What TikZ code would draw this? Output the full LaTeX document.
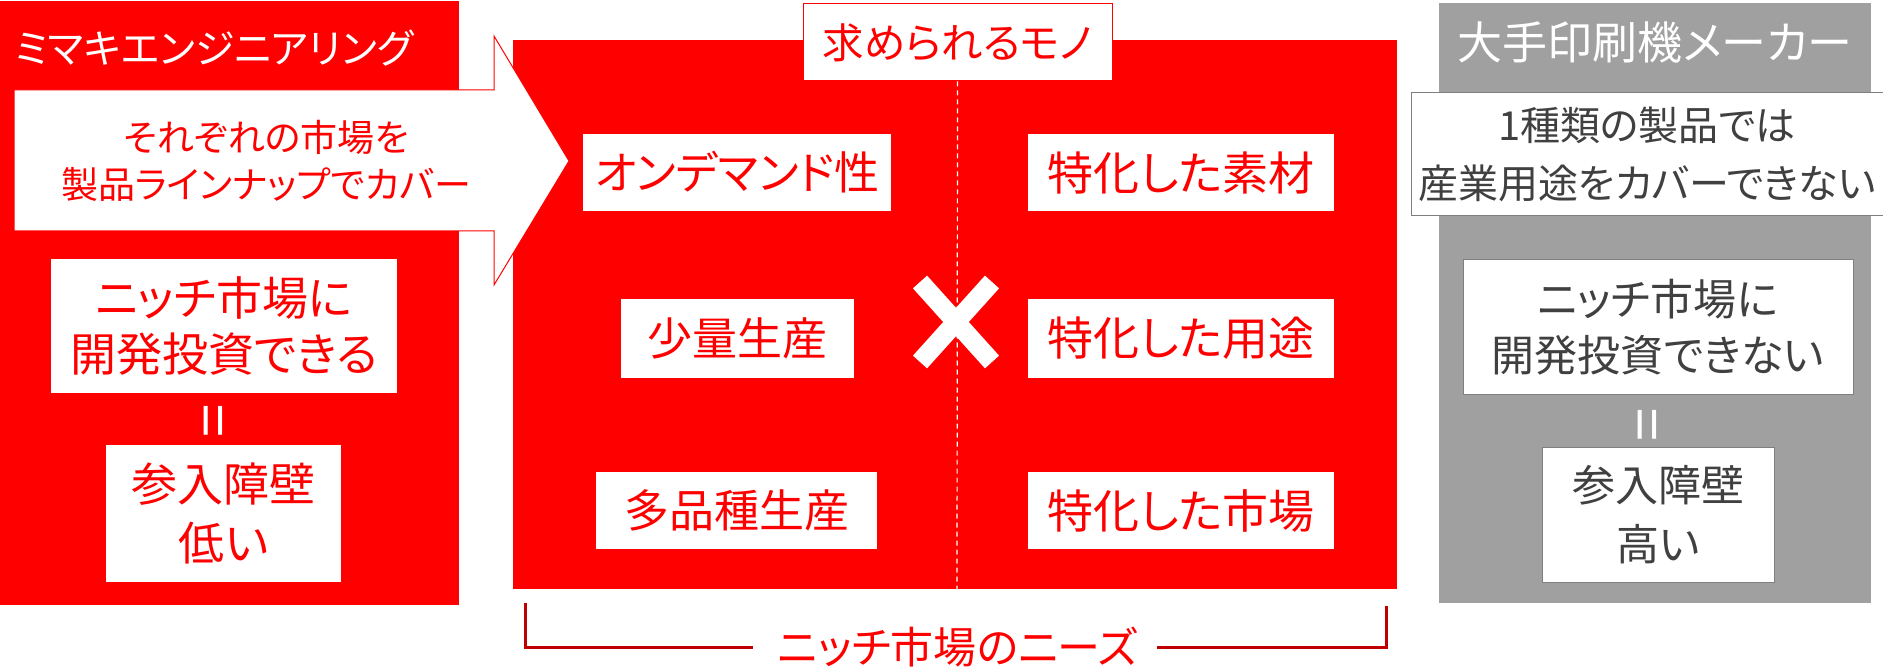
\documentclass[tikz,border=0pt]{standalone}
\usepackage{fontspec}
\setmainfont{Noto Sans CJK JP}[RawFeature=+palt]
\usepackage{tikz}
\definecolor{mkred}{HTML}{FF0000}
\definecolor{mkdarkred}{HTML}{C00000}
\definecolor{panelgray}{HTML}{A0A0A0}
\definecolor{textgray}{HTML}{404040}
\definecolor{linegray}{HTML}{7F7F7F}
\newcommand{\sizefont}[2]{\fontsize{#1}{#2}\selectfont}

\begin{document}
\begin{tikzpicture}[x=1pt,y=-1pt,
		redbox/.style={fill=white,text=mkred,align=center,inner sep=0pt},
		graybox/.style={fill=white,draw=linegray,line width=1pt,text=textgray,align=center,inner sep=0pt},
		paneltitle/.style={text=white,inner sep=0pt},
		bracketline/.style={mkdarkred,line width=3pt}]

	\useasboundingbox (0,0) rectangle (1883,671);

	% panels
	\fill[mkred] (0,1) rectangle (459,605);
	\fill[mkred] (513,40) rectangle (1397,589);
	\fill[panelgray] (1439,3) rectangle (1871,603);

	% left panel
	\node[paneltitle,font=\sizefont{40}{40}] (mimaki) at (214,48) {ミマキエンジニアリング};

	\draw[mkred,line width=1pt,fill=white] (14,90) -- (494,90) -- (494,36) -- (569,161) -- (494,285) -- (494,231) -- (14,231) -- cycle;
	\node[text=mkred,align=center,font=\sizefont{37}{47}] (cover) at (266,161) {それぞれの市場を\\製品ラインナップでカバー};

	\node[redbox,minimum width=346pt,minimum height=134pt,font=\sizefont{46}{56}] (nicheL) at (224,326) {ニッチ市場に\\開発投資できる};
	\node[text=white,rotate=90,inner sep=0pt,font=\sizefont{60}{60}] (eqL) at (220,421) {=};
	\node[redbox,minimum width=235pt,minimum height=137pt,font=\sizefont{46}{59}] (barrierL) at (223.5,513.5) {参入障壁\\低い};

	% middle panel
	\node[redbox,draw=mkred,line width=1pt,minimum width=309pt,minimum height=77pt,font=\sizefont{41.5}{41.5}] (needs) at (957.5,42.5) {求められるモノ};
	\coordinate (midbottom) at (957,589);
	\draw[white,line width=1.2pt,dash pattern=on 5pt off 4pt] (needs.south) -- (midbottom);

	\node[redbox,minimum width=308pt,minimum height=77pt,font=\sizefont{45}{45}] (ondemand) at (737,172.5) {オンデマンド性};
	\node[redbox,minimum width=233pt,minimum height=79pt,font=\sizefont{45}{45}] (smalllot) at (737.5,338.5) {少量生産};
	\node[redbox,minimum width=281pt,minimum height=77pt,font=\sizefont{45}{45}] (manykinds) at (736.5,510.5) {多品種生産};

	\node[redbox,minimum width=306pt,minimum height=77pt,font=\sizefont{46}{46}] (material) at (1181,172.5) {特化した素材};
	\node[redbox,minimum width=306pt,minimum height=79pt,font=\sizefont{46}{46}] (usage) at (1181,338.5) {特化した用途};
	\node[redbox,minimum width=306pt,minimum height=77pt,font=\sizefont{46}{46}] (market) at (1181,510.5) {特化した市場};

	% cross
	\draw[white,line width=19pt] (920,282) -- (992,362);
	\draw[white,line width=19pt] (992,282) -- (920,362);

	% bracket
	\node[text=mkred,inner sep=0pt,font=\sizefont{43}{43}] (nicheneeds) at (958,647) {ニッチ市場のニーズ};
	\draw[bracketline] ([xshift=-25pt]nicheneeds.west) -| (525,603);
	\draw[bracketline] ([xshift=19pt]nicheneeds.east) -| (1386,606);

	% right panel
	\node[paneltitle,font=\sizefont{45}{45}] (maker) at (1655,42) {大手印刷機メーカー};
	\node[graybox,minimum width=472pt,minimum height=123pt,font=\sizefont{40}{58}] (onetype) at (1647,154.5) {1種類の製品では\\産業用途をカバーできない};
	\node[graybox,minimum width=390pt,minimum height=134pt,font=\sizefont{43}{56}] (nicheR) at (1658,327) {ニッチ市場に\\開発投資できない};
	\node[text=white,rotate=90,inner sep=0pt,font=\sizefont{60}{60}] (eqR) at (1654,425) {=};
	\node[graybox,minimum width=232pt,minimum height=135pt,font=\sizefont{43}{59}] (barrierR) at (1658,514.5) {参入障壁\\高い};

\end{tikzpicture}
\end{document}
